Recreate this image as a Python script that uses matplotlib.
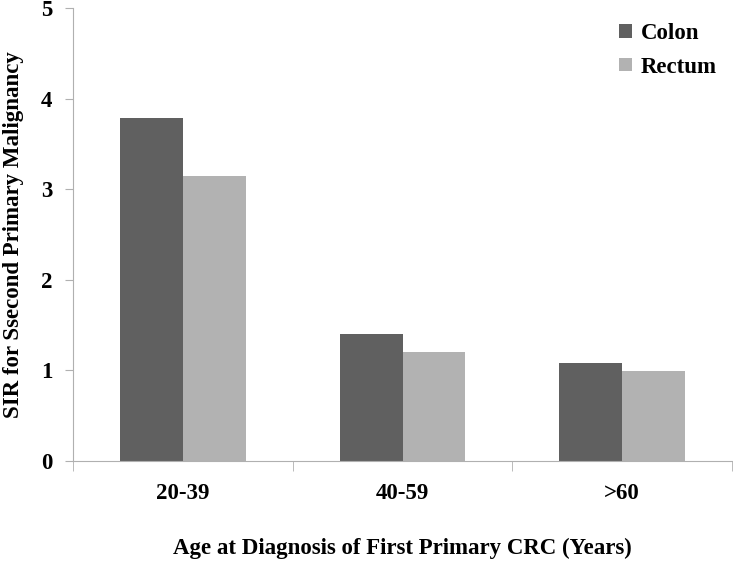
import numpy as np
import matplotlib.pyplot as plt

plt.rcParams['font.family'] = ['Liberation Serif', 'DejaVu Serif']
plt.rcParams['font.weight'] = 'bold'
plt.rcParams['axes.labelweight'] = 'bold'

groups = ['20-39', '40-59', '>60']
colon = [3.79, 1.40, 1.08]
rectum = [3.15, 1.20, 0.99]

fig = plt.figure(figsize=(7.33, 5.61), dpi=100)
ax = fig.add_axes([73 / 733, 1 - 461 / 561, 659 / 733, 453 / 561])

x = np.arange(len(groups))
w = 0.286
ax.bar(x - w / 2, colon, w, color='#606060', label='Colon')
ax.bar(x + w / 2, rectum, w, color='#b2b2b2', label='Rectum')

ax.set_xlim(-0.5, 2.5)
ax.set_ylim(0, 5)
ax.set_yticks(range(6))
ax.set_xticks(x)
ax.set_xticklabels(groups)
ax.set_xticks([-0.5, 0.5, 1.5, 2.5], minor=True)
ax.tick_params(axis='x', which='major', length=0, pad=16, labelsize=16.5)
ax.tick_params(axis='x', which='minor', length=7, color='#b0b0b0', direction='out')
ax.tick_params(axis='y', length=6, color='#b0b0b0', labelsize=16.5, pad=9)

for s in ['top', 'right']:
    ax.spines[s].set_visible(False)
for s in ['left', 'bottom']:
    ax.spines[s].set_color('#b0b0b0')

ax.set_ylabel('SIR for Ssecond Primary Malignancy', fontsize=16.5, labelpad=12)
ax.set_xlabel('Age at Diagnosis of First Primary CRC (Years)', fontsize=16.5, labelpad=24)

ax.legend(loc='upper left', bbox_to_anchor=(596 / 733, 1.0),
          bbox_transform=fig.transFigure, frameon=False, fontsize=16.5,
          handlelength=0.55, handleheight=0.55, handletextpad=0.4, labelspacing=0.55,
          borderaxespad=0.6)

fig.savefig('out.png', dpi=100)
